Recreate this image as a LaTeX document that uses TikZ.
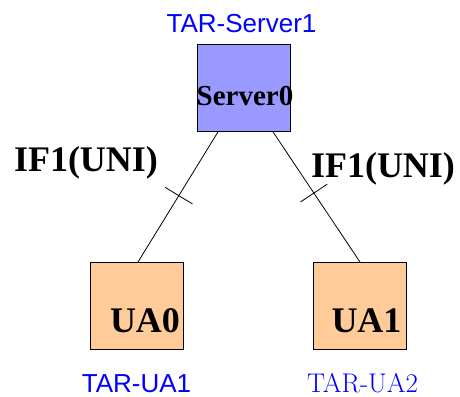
\documentclass[tikz,border=0pt]{standalone}
\usepackage{fontspec}
\setmainfont{Liberation Serif}
\newfontfamily\arialfont{Liberation Sans}
\newfontfamily\cmfont{Latin Modern Roman}
\usetikzlibrary{calc}
\definecolor{srvblue}{HTML}{9999FF}
\definecolor{uaorange}{HTML}{FFCC99}
\tikzset{
  box/.style={draw, line width=0.9pt, minimum width=93pt, minimum height=87pt, inner sep=0pt},
  boxtext/.style={anchor=base, inner sep=0pt, font=\fontsize{36}{40}\selectfont\bfseries},
  tarlabel/.style={anchor=base, inner sep=0pt, text=blue, font=\fontsize{26}{30}\selectfont\arialfont}
}

\begin{document}
\begin{tikzpicture}[x=1pt,y=-1pt]
    \useasboundingbox (0,0) rectangle (460,396);
        % boxes
        \node[box, fill=srvblue, anchor=north west] (S) at (197,44) {};
        \node[box, fill=uaorange, anchor=north west] (U0) at (90,262) {};
        \node[box, fill=uaorange, anchor=north west] (U1) at (313,262) {};
        % texts
        \node[boxtext, font=\fontsize{29}{32}\selectfont\bfseries] (Stext) at (245,105) {Server0};
        \node[boxtext] (U0text) at (145,332) {UA0};
        \node[boxtext] (U1text) at (366.5,332) {UA1};
        \node[tarlabel] (Star) at (241.5,33) {TAR-Server1};
        \node[tarlabel] (U0tar) at (136.5,392) {TAR-UA1};
        \node[tarlabel, font=\fontsize{27}{30}\selectfont\cmfont] (U1tar) at (362.5,392) {TAR-UA2};
        \node[boxtext] (IFleft) at (86,171) {IF1(UNI)};
        \node[boxtext] (IFright) at (383,177) {IF1(UNI)};
        % links
        \draw [line width=0.8pt] ([xshift=21pt]S.south west) -- coordinate[pos=0.49] (t0) ([xshift=48pt]U0.north west);
        \draw [line width=0.8pt] ([xshift=76pt]S.south west) -- coordinate[pos=0.47] (t1) ([xshift=47pt]U1.north west);
        \draw [line width=0.8pt] ($(t0)!16pt!90:(S)$) -- ($(t0)!16pt!-90:(S)$);
        \draw [line width=0.8pt] ($(t1)!16pt!90:(S)$) -- ($(t1)!16pt!-90:(S)$);
    \end{tikzpicture}
\end{document}
